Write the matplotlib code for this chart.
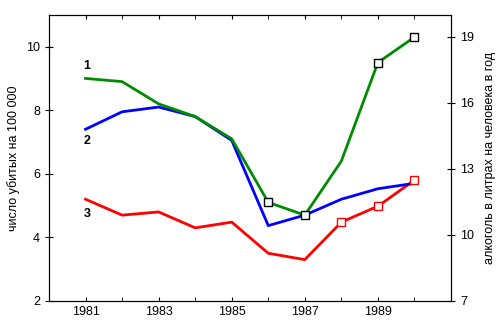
import matplotlib.pyplot as plt

plt.rcParams['font.family'] = ['Liberation Sans', 'DejaVu Sans']

years = [1981, 1982, 1983, 1984, 1985, 1986, 1987, 1988, 1989, 1990]
line1 = [9.0, 8.9, 8.2, 7.8, 7.1, 5.1, 4.7, 6.4, 9.5, 10.3]
line2 = [7.4, 7.95, 8.1, 7.8, 7.05, 4.37, 4.7, 5.2, 5.53, 5.7]
line3 = [5.2, 4.7, 4.8, 4.3, 4.48, 3.5, 3.3, 4.48, 4.98, 5.8]
marked1 = [1986, 1987, 1989, 1990]
marked3 = [1988, 1989, 1990]
xticks = [1981, 1983, 1985, 1987, 1989]

fig = plt.figure(figsize=(5, 3.3), dpi=100)
ax = fig.add_axes([0.098, 0.088, 0.804, 0.867])

ax.plot(years, line3, color='#ff0000', lw=2)
ax.plot(years, line2, color='#0000ff', lw=2)
ax.plot(years, line1, color='#008c00', lw=2)

m1 = [line1[years.index(y)] for y in marked1]
m3 = [line3[years.index(y)] for y in marked3]
ax.plot(marked1, m1, 's', ms=5.5, mfc='white', mec='black', mew=1)
ax.plot(marked3, m3, 's', ms=5.5, mfc='white', mec='#ff0000', mew=1)

ax.text(1980.95, 9.3, '1', fontsize=9, fontweight='bold')
ax.text(1980.95, 6.95, '2', fontsize=9, fontweight='bold')
ax.text(1980.95, 4.65, '3', fontsize=9, fontweight='bold')

ax.set_xlim(1980, 1991)
ax.set_ylim(2, 11)
ax.set_xticks(years, minor=True)
ax.set_xticks(xticks)
ax.set_yticks([2, 4, 6, 8, 10])
ax.tick_params(axis='x', which='both', direction='in', top=True, length=3, labelsize=9)
ax.tick_params(axis='y', direction='inout', length=6, labelsize=9)
ax.set_ylabel('число убитых на 100 000', fontsize=9)

ax2 = ax.twinx()
ax2.set_ylim(7, 20)
ax2.set_yticks([7, 10, 13, 16, 19])
ax2.tick_params(axis='y', direction='inout', length=6, labelsize=9)
ax2.set_ylabel('алкоголь в литрах на человека в год', fontsize=9, labelpad=7)

fig.savefig('out.png')
